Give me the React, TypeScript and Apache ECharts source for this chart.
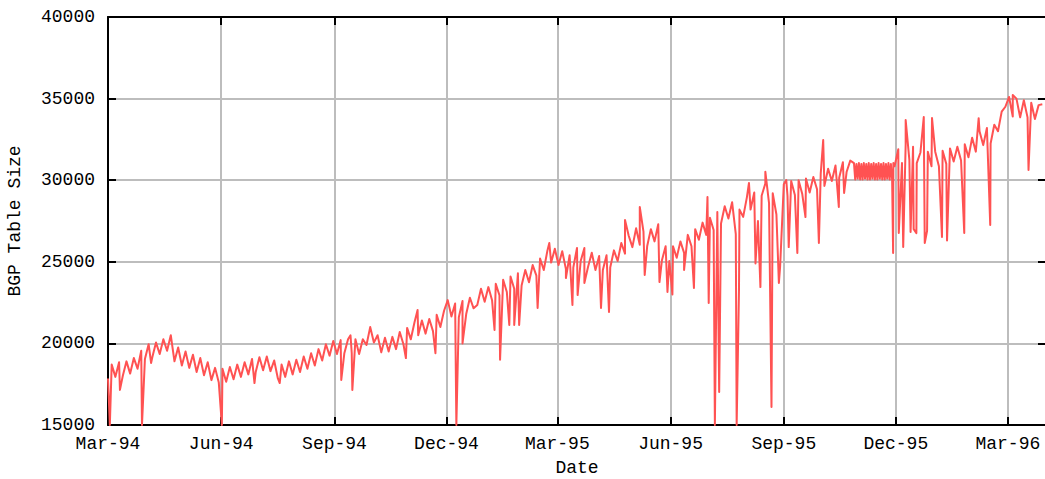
import React, { useEffect, useRef } from "react";
import * as echarts from "echarts";

// ---- data ----
const START_DATE = "1994-03-01";
const END_DATE = "1996-04-01";

const tickDates = [
  "1994-03-01", "1994-06-01", "1994-09-01", "1994-12-01",
  "1995-03-01", "1995-06-01", "1995-09-01", "1995-12-01", "1996-03-01",
];
const tickLabels = [
  "Mar-94", "Jun-94", "Sep-94", "Dec-94",
  "Mar-95", "Jun-95", "Sep-95", "Dec-95", "Mar-96",
];

const yMin = 15000;
const yMax = 40000;
const yStep = 5000;

// samples every 3 days from day 0 (Mar 1 1994) to day 603
const earlyStartDay = 0;
const earlyStepDays = 3;
const earlyValues = [
  17850, 18700, 17950, 18850, 18000, 18900, 18150, 19100, 18450, 19550,
  19050, 19950, 19150, 20050, 19350, 20250, 19550, 20500, 18900, 19750,
  18650, 19500, 18500, 19300, 18250, 19100, 18050, 18850, 17750, 18500,
  17600, 18450, 17650, 18550, 17800, 18700, 17950, 18850, 18100, 19050,
  18250, 19150, 18350, 19200, 18300, 18950, 17850, 18700, 17950, 18900,
  18100, 19000, 18250, 19200, 18450, 19400, 18650, 19650, 18950, 19950,
  19250, 20150, 19350, 20200, 19400, 20250, 19400, 20250, 19350, 20250,
  19900, 21000, 20050, 20500, 19450, 20350, 19500, 20400, 19650, 20700,
  19950, 20950, 20250, 21300, 20500, 21400, 20600, 21500, 20750, 21750,
  21000, 22000, 22650, 21650, 22450, 21600, 22600, 21800, 22800, 22150,
  22350, 23350, 22550, 23450, 22650, 23650, 22950, 23900, 23150, 24100,
  23350, 24300, 23550, 24500, 23750, 24800, 24150, 25200, 24500, 25700,
  24950, 25800, 24800, 25650, 24550, 25400, 24650, 25850, 25050, 25850,
  24700, 25550, 24500, 25350, 24500, 25400, 24650, 25700, 25050, 26150,
  25500, 26600, 25900, 27050, 26050, 26850, 25950, 27000, 26250, 27300,
  25100, 25950, 25050, 25950, 25250, 26250, 25550, 26650, 25950, 27000,
  26350, 27400, 26650, 27700, 26950, 28050, 27350, 28400, 27650, 28650,
  26700, 28200, 27750, 28950, 28200, 29250, 27500, 29050, 29800, 28600,
  29200, 27900, 24700, 29750, 29050, 29950, 29100, 30000, 29150, 30100,
  29250, 30200, 29450, 30400, 29650, 30700, 29950, 30900, 30150, 31100,
  30500, 31200,
];

// daily samples, day 606 to day 638 (Nov 1995 plateau)
const plateauStartDay = 606;
const plateauStepDays = 1;
const plateauValues = [
  31050, 30050, 31000, 30100, 31050, 30050, 31000, 30050, 31050, 30100,
  31000, 30050, 31050, 30050, 31000, 30100, 31050, 30050, 31000, 30050,
  31050, 30100, 31000, 30050, 31050, 30050, 31000, 30100, 31050, 30050,
  31000, 30050, 31050,
];

// samples every 3 days, day 639 to day 759
const lateStartDay = 639;
const lateStepDays = 3;
const lateValues = [
  30850, 31900, 31050, 32200, 31250, 32050, 31050, 31700, 30800, 31750,
  30850, 31750, 30850, 31800, 31000, 31950, 31150, 32050, 31200, 32200,
  31400, 32600, 31750, 33000, 32150, 33200, 32250, 33400, 33000, 34200,
  34500, 35100, 33900, 35000, 33850, 34900, 33850, 34750, 33750, 34600,
  34650,
];

// isolated outliers: [day after Mar 1 1994, value]
const spikes: [number, number][] = [
  [1.5, 15000], [9.7, 17150], [27.6, 15000], [35, 18800], [92.5, 15000],
  [119, 17570], [139.5, 17570], [189.5, 17760], [197, 20500], [198.5, 17150],
  [242, 19100], [251.5, 22050], [266, 19400], [283, 15000], [288, 20000],
  [314, 20820], [318.5, 19000], [326, 21130], [330, 21130], [334, 21130],
  [349, 22170], [358.5, 26150], [372, 24000], [377.3, 22350], [381.5, 22960],
  [387, 23700], [400.5, 22170], [407, 21920], [420, 27560], [432, 28360],
  [436, 24190], [448, 23760], [454.5, 23150], [458.5, 23000], [468, 24500],
  [476, 23400], [487, 28970], [488, 22470], [493, 15000], [496.5, 17020],
  [510.7, 15000], [512.6, 23270], [520.7, 29830], [526, 24900], [530, 23450],
  [534, 30520], [539, 16100], [545, 23700], [551, 30010], [553, 25900],
  [560, 25540], [566.6, 27740], [577.5, 26150], [581, 32460], [593.7, 28360],
  [598, 29220], [637.8, 25540], [642.4, 26760], [646, 25910], [648, 33690],
  [652, 26830], [654.5, 27000], [656.7, 26760], [662.7, 33870], [663.5, 26150],
  [665.4, 26900], [669.4, 33810], [677.5, 26520], [681.6, 26300], [695.6, 26760],
  [707.3, 33800], [716.7, 27250], [735, 35220], [747.8, 30620],
];

const DAY_MS = 86400000;

function buildSeries(): [number, number][] {
  const startMs = Date.parse(START_DATE);
  const pts: [number, number][] = [];
  earlyValues.forEach((v, i) => pts.push([earlyStartDay + i * earlyStepDays, v]));
  plateauValues.forEach((v, i) => pts.push([plateauStartDay + i * plateauStepDays, v]));
  lateValues.forEach((v, i) => pts.push([lateStartDay + i * lateStepDays, v]));
  spikes.forEach(([d, v]) => pts.push([d, v]));
  pts.sort((a, b) => a[0] - b[0]);
  return pts.map(([d, v]) => [startMs + d * DAY_MS, v]);
}

const FONT = "Liberation Mono";
const FONT_SIZE = 18;
const TEXT_COLOR = "#000000";
const GRID_COLOR = "#bdbdbd";
const LINE_COLOR = "#ff5252";

export default function App() {
  const ref = useRef<HTMLDivElement>(null);

  useEffect(() => {
    if (!ref.current) return;
    const chart = echarts.init(ref.current, undefined, { renderer: "svg" });
    const tickMs = tickDates.map((d) => Date.parse(d));
    const labelFor = (val: number) => {
      const idx = tickMs.findIndex((t) => Math.abs(t - val) < DAY_MS / 2);
      return idx >= 0 ? tickLabels[idx] : "";
    };
    const axisLine = { show: true, onZero: false, lineStyle: { color: "#000", width: 2 } };
    const axisTick = {
      show: true,
      inside: true,
      length: 8,
      lineStyle: { color: "#000", width: 2 },
    };
    const textStyle = { fontFamily: FONT, fontSize: FONT_SIZE, color: TEXT_COLOR };

    chart.setOption({
      animation: false,
      backgroundColor: "#ffffff",
      grid: {
        left: 108,
        top: 17,
        right: -1,
        bottom: 54,
        containLabel: false,
        outerBoundsMode: "none",
      },
      xAxis: [
        {
          type: "value",
          position: "bottom",
          min: Date.parse(START_DATE),
          max: Date.parse(END_DATE),
          axisLine,
          axisTick: { ...axisTick, customValues: tickMs },
          axisLabel: {
            ...textStyle,
            margin: 10,
            customValues: tickMs,
            formatter: (v: number) => labelFor(v),
          },
          splitLine: { show: true, lineStyle: { color: GRID_COLOR, width: 2 } },
          name: "Date",
          nameLocation: "middle",
          nameGap: 34,
          nameTextStyle: textStyle,
        },
        {
          type: "value",
          position: "top",
          min: Date.parse(START_DATE),
          max: Date.parse(END_DATE),
          axisLine,
          axisTick: { ...axisTick, customValues: tickMs },
          axisLabel: { show: false, customValues: tickMs },
          splitLine: { show: false },
        },
      ],
      yAxis: [
        {
          type: "value",
          position: "left",
          min: yMin,
          max: yMax,
          interval: yStep,
          axisLine,
          axisTick,
          axisLabel: { ...textStyle, margin: 13, formatter: (v: number) => String(v) },
          splitLine: { show: true, lineStyle: { color: GRID_COLOR, width: 2 } },
          name: "BGP Table Size",
          nameLocation: "middle",
          nameRotate: 90,
          nameGap: 84,
          nameTextStyle: textStyle,
        },
        {
          type: "value",
          position: "right",
          min: yMin,
          max: yMax,
          interval: yStep,
          axisLine,
          axisTick,
          axisLabel: { show: false },
          splitLine: { show: false },
        },
      ],
      series: [
        {
          type: "line",
          xAxisIndex: 0,
          yAxisIndex: 0,
          data: buildSeries(),
          showSymbol: false,
          symbol: "none",
          lineStyle: { color: LINE_COLOR, width: 2, join: "round" },
          z: 3,
        },
      ],
    });
    return () => chart.dispose();
  }, []);

  return (
    <div
      ref={ref}
      style={{ position: "absolute", left: 0, top: 0, width: 1045, height: 479 }}
    />
  );
}
